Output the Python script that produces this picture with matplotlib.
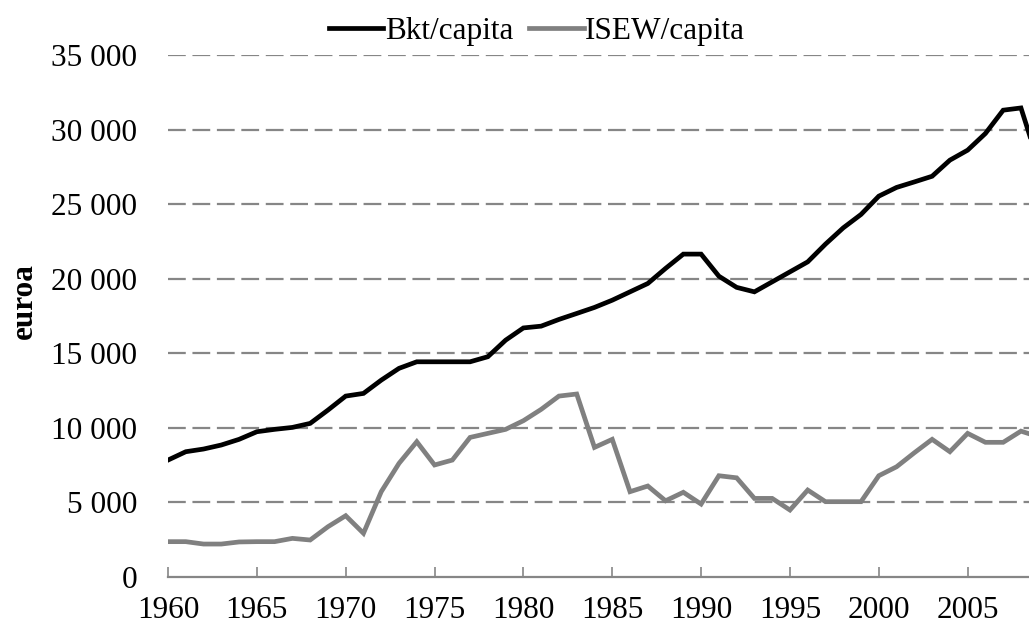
import matplotlib
matplotlib.use("Agg")
import matplotlib.pyplot as plt
from matplotlib.ticker import FuncFormatter

years = list(range(1960, 2010))
bkt_capita = [7840, 8400, 8580, 8850, 9230, 9740, 9900, 10030, 10300, 11190,
              12130, 12310, 13200, 13990, 14430, 14430, 14430, 14430, 14770, 15880,
              16700, 16820, 17270, 17670, 18075, 18560, 19120, 19680, 20690, 21650,
              21650, 20170, 19420, 19120, 19790, 20460, 21130, 22320, 23410, 24310,
              25535, 26120, 26490, 26870, 27950, 28620, 29740, 31300, 31450, 27700]
isew_capita = [2370, 2370, 2210, 2210, 2350, 2370, 2370, 2590, 2480, 3370,
               4110, 2930, 5720, 7620, 9070, 7510, 7840, 9360, 9630, 9900,
               10480, 11240, 12130, 12270, 8690, 9230, 5720, 6100, 5110, 5680,
               4890, 6790, 6650, 5270, 5270, 4490, 5830, 5050, 5050, 5050,
               6790, 7390, 8330, 9230, 8400, 9630, 9030, 9030, 9780, 9400]
series_labels = ["Bkt/capita", "ISEW/capita"]
y_ticks = [0, 5000, 10000, 15000, 20000, 25000, 30000, 35000]
x_ticks = list(range(1960, 2010, 5))
y_label = "euroa"

plt.rcParams['font.family'] = ['Liberation Serif', 'DejaVu Serif']
fs = 22.5
grey = '#868686'

fig = plt.figure(figsize=(10.29, 6.30), dpi=100)
ax = fig.add_axes([168/1029, 1 - 577/630, 1 - 168/1029, (577 - 55)/630])

ax.plot(years, bkt_capita, color='black', lw=3.4, label=series_labels[0], zorder=3,
        solid_joinstyle='miter')
ax.plot(years, isew_capita, color='#808080', lw=3.4, label=series_labels[1], zorder=3,
        solid_joinstyle='miter')

ax.set_xlim(1960, 1960 + (1029 - 168) / 17.77)
ax.set_ylim(0, 35000)
ax.set_yticks(y_ticks)
ax.set_xticks(x_ticks)
ax.yaxis.set_major_formatter(FuncFormatter(lambda v, p: f"{int(v):,}".replace(",", " ")))

for yv in y_ticks[1:]:
    ax.axhline(yv, color=grey, lw=1.6, dashes=(8, 3), zorder=1)

for s in ['left', 'right', 'top']:
    ax.spines[s].set_visible(False)
ax.spines['bottom'].set_color(grey)
ax.spines['bottom'].set_linewidth(1.6)

ax.tick_params(axis='y', length=0, pad=22, labelsize=fs)
ax.tick_params(axis='x', direction='in', length=7, width=1.2, color=grey,
               pad=14, labelsize=fs)

fig.text(24/1029, 1 - 301/630, y_label, rotation=90, fontsize=fs, fontweight='bold',
         ha='center', va='center')

fig.legend(loc='center', bbox_to_anchor=(537/1029, 1 - 31/630), ncol=2, frameon=False,
           fontsize=fs, handlelength=1.75, handletextpad=0.05, columnspacing=0.5,
           borderaxespad=0)

fig.savefig("out.png", dpi=100)
